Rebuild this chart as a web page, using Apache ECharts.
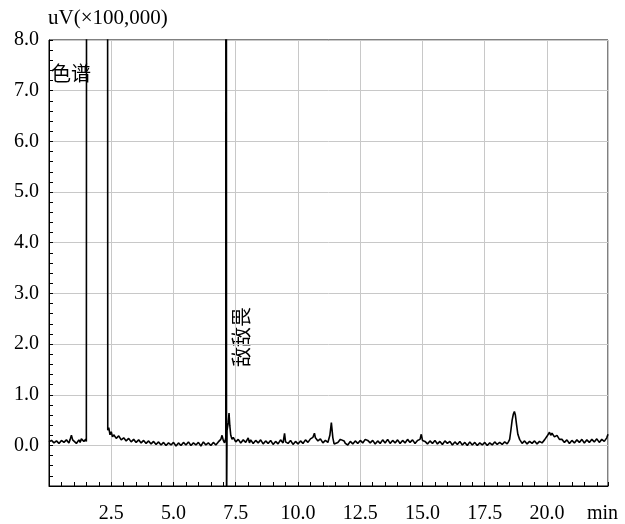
<!DOCTYPE html>
<html>
<head>
<meta charset="utf-8">
<script src="https://cdn.jsdelivr.net/npm/echarts@6/dist/echarts.min.js"></script>
<style>
  html, body { margin: 0; padding: 0; background: #fff; }
  #chart-container { width: 625px; height: 524px; }
</style>
</head>
<body>
<div id="chart-container"></div>
<script>
// chromatogram trace, [time (min), signal (uV x 100,000)]
var traceEarly = [
  [0.00, 0.07], [0.10, 0.10], [0.20, 0.05], [0.30, 0.09], [0.40, 0.04], [0.50, 0.10],
  [0.60, 0.06], [0.70, 0.11], [0.80, 0.05], [0.85, 0.12], [0.90, 0.20], [0.95, 0.11],
  [1.00, 0.08], [1.10, 0.04], [1.20, 0.11], [1.25, 0.06], [1.30, 0.13], [1.40, 0.08],
  [1.47, 0.12], [1.50, 0.08], [1.53, 40], [2.33, 40], [2.36, 0.30], [2.40, 0.35],
  [2.45, 0.21], [2.50, 0.27], [2.55, 0.17], [2.60, 0.21], [2.70, 0.14], [2.80, 0.19],
  [2.90, 0.11], [3.00, 0.15], [3.10, 0.09], [3.20, 0.14], [3.30, 0.07], [3.40, 0.12],
  [3.50, 0.06], [3.60, 0.11], [3.70, 0.05], [3.80, 0.10], [3.90, 0.04], [4.00, 0.09],
  [4.10, 0.03], [4.20, 0.08], [4.30, 0.02], [4.40, 0.07], [4.50, 0.01], [4.60, 0.06],
  [4.70, 0.00], [4.80, 0.05], [4.90, 0.01], [5.00, 0.06], [5.10, -0.01], [5.20, 0.05],
  [5.30, 0.00], [5.40, 0.06], [5.50, 0.01], [5.60, 0.07], [5.70, 0.00], [5.80, 0.05],
  [5.90, 0.01], [6.00, 0.06], [6.10, -0.01], [6.20, 0.07], [6.30, 0.01], [6.40, 0.05],
  [6.50, 0.00], [6.60, 0.06], [6.70, 0.01], [6.80, 0.07], [6.90, 0.12], [6.95, 0.20],
  [7.00, 0.10], [7.05, 0.05], [7.10, 0.15], [7.11, 40], [7.13, -1.5], [7.15, 0.30],
  [7.20, 0.45], [7.23, 0.64], [7.26, 0.40], [7.30, 0.20], [7.35, 0.12], [7.40, 0.16]
];
var traceMiddle = [
  [7.50, 0.07], [7.60, 0.12], [7.70, 0.05], [7.80, 0.11], [7.90, 0.06], [8.00, 0.15],
  [8.05, 0.05], [8.10, 0.11], [8.20, 0.04], [8.30, 0.10], [8.40, 0.05], [8.50, 0.11],
  [8.60, 0.03], [8.70, 0.09], [8.80, 0.04], [8.90, 0.10], [9.00, 0.02], [9.10, 0.08],
  [9.20, 0.03], [9.30, 0.11], [9.40, 0.05], [9.46, 0.24], [9.50, 0.07], [9.60, 0.04],
  [9.70, 0.10], [9.80, 0.02], [9.90, 0.08], [10.00, 0.03], [10.10, 0.09], [10.20, 0.04],
  [10.30, 0.11], [10.40, 0.06], [10.50, 0.13], [10.60, 0.16], [10.66, 0.24], [10.70, 0.15],
  [10.80, 0.09], [10.90, 0.13], [11.00, 0.05], [11.10, 0.10], [11.20, 0.06], [11.28, 0.20],
  [11.34, 0.45], [11.40, 0.15], [11.45, 0.03], [11.50, 0.01], [11.60, 0.06], [11.70, 0.12],
  [11.77, 0.15], [11.85, 0.09], [11.90, 0.04], [12.00, 0.01], [12.10, 0.08], [12.20, 0.03],
  [12.30, 0.09], [12.40, 0.04], [12.50, 0.10], [12.60, 0.05], [12.70, 0.12], [12.80, 0.10],
  [12.90, 0.05], [13.00, 0.10], [13.10, 0.03], [13.20, 0.09], [13.30, 0.04], [13.40, 0.11],
  [13.50, 0.05], [13.60, 0.12], [13.70, 0.04], [13.80, 0.10], [13.90, 0.05], [14.00, 0.11],
  [14.10, 0.04], [14.20, 0.10], [14.30, 0.05], [14.40, 0.12], [14.50, 0.06], [14.60, 0.11],
  [14.70, 0.04], [14.80, 0.10], [14.90, 0.12], [14.95, 0.22], [15.00, 0.10]
];
var traceLate = [
  [15.10, 0.08], [15.20, 0.03], [15.30, 0.09], [15.40, 0.04], [15.50, 0.10], [15.60, 0.03],
  [15.70, 0.08], [15.80, 0.02], [15.90, 0.09], [16.00, 0.04], [16.10, 0.08], [16.20, 0.01],
  [16.30, 0.07], [16.40, 0.02], [16.50, 0.08], [16.60, 0.01], [16.70, 0.06], [16.80, 0.00],
  [16.90, 0.07], [17.00, 0.01], [17.10, 0.06], [17.20, 0.00], [17.30, 0.05], [17.40, 0.01],
  [17.50, 0.06], [17.60, 0.00], [17.70, 0.05], [17.80, 0.01], [17.90, 0.07], [18.00, 0.02],
  [18.10, 0.06], [18.20, 0.02], [18.30, 0.07], [18.40, 0.03], [18.45, 0.07], [18.50, 0.12],
  [18.55, 0.30], [18.60, 0.50], [18.65, 0.62], [18.69, 0.67], [18.73, 0.60], [18.78, 0.40],
  [18.83, 0.22], [18.90, 0.12], [18.95, 0.08], [19.00, 0.04], [19.10, 0.09], [19.20, 0.03],
  [19.30, 0.08], [19.40, 0.04], [19.50, 0.09], [19.60, 0.03], [19.70, 0.08], [19.80, 0.05],
  [19.90, 0.11], [20.00, 0.18], [20.05, 0.21], [20.10, 0.26], [20.15, 0.20], [20.20, 0.24],
  [20.30, 0.17], [20.40, 0.20], [20.50, 0.12], [20.60, 0.12], [20.70, 0.06], [20.80, 0.11],
  [20.90, 0.04], [21.00, 0.10], [21.10, 0.05], [21.20, 0.11], [21.30, 0.06], [21.40, 0.12],
  [21.50, 0.05], [21.60, 0.11], [21.70, 0.06], [21.80, 0.12], [21.90, 0.07], [22.00, 0.13],
  [22.10, 0.06], [22.20, 0.12], [22.30, 0.08], [22.40, 0.15], [22.45, 0.22]
];

var xRange = [0, 22.45];
var yRange = [-0.8, 8];
var peakLabels = ["色谱", "敌敌畏"];

var dom = document.getElementById("chart-container");
var myChart = echarts.init(dom, null, { renderer: "canvas" });

var serif = "'Liberation Serif', 'Noto Sans CJK SC', serif";

var option = {
  animation: false,
  backgroundColor: "#fff",
  grid: {
    left: 49,
    right: 17,
    top: 40,
    bottom: 38,
    show: true,
    borderColor: "#000",
    borderWidth: 1,
  },
  xAxis: {
    type: "value",
    min: xRange[0],
    max: xRange[1],
    interval: 2.5,
    axisLine: { onZero: false, lineStyle: { color: "#000", width: 1 } },
    axisTick: { show: true, inside: true, length: 4, lineStyle: { color: "#000" } },
    minorTick: { show: true, splitNumber: 5, length: 4, lineStyle: { color: "#000" } },
    splitLine: { show: true, lineStyle: { color: "#c8c8c8", width: 1 } },
    axisLabel: {
      margin: 18,
      color: "#000",
      fontFamily: serif,
      fontSize: 20,
      showMaxLabel: false,
      formatter: function (v) {
        if (v <= 0 || v > 21) return "";
        return v.toFixed(1);
      },
    },
  },
  yAxis: {
    type: "value",
    min: yRange[0],
    max: yRange[1],
    splitNumber: 9,
    axisLine: { show: true, onZero: false, lineStyle: { color: "#000", width: 1 } },
    axisTick: { show: true, inside: true, length: 4, lineStyle: { color: "#000" } },
    minorTick: { show: true, splitNumber: 5, length: 4, lineStyle: { color: "#000" } },
    splitLine: { show: true, lineStyle: { color: "#c8c8c8", width: 1 } },
    axisLabel: {
      margin: 10,
      color: "#000",
      fontFamily: serif,
      fontSize: 20,
      formatter: function (v) {
        if (v < -0.01) return "";
        return v.toFixed(1);
      },
    },
  },
  graphic: [
    { type: "text", left: 48, top: 8, style: { text: "uV(×100,000)", font: "21px " + serif, fill: "#000" } },
    { type: "text", left: 587, top: 504, style: { text: "min", font: "20px " + serif, fill: "#000" } },
    { type: "text", left: 51, top: 66, style: { text: peakLabels[0], font: "20px " + serif, fill: "#000" } },
    {
      type: "text",
      x: 244,
      y: 337,
      rotation: Math.PI / 2,
      style: { text: peakLabels[1], font: "20px " + serif, fill: "#000", align: "center", verticalAlign: "middle" },
    },
  ],
  series: [
    {
      type: "line",
      data: traceEarly.concat(traceMiddle, traceLate),
      symbol: "none",
      clip: true,
      lineStyle: { color: "#000", width: 1.6 },
    },
  ],
};

myChart.setOption(option);
window.addEventListener("resize", myChart.resize);
</script>
</body>
</html>
